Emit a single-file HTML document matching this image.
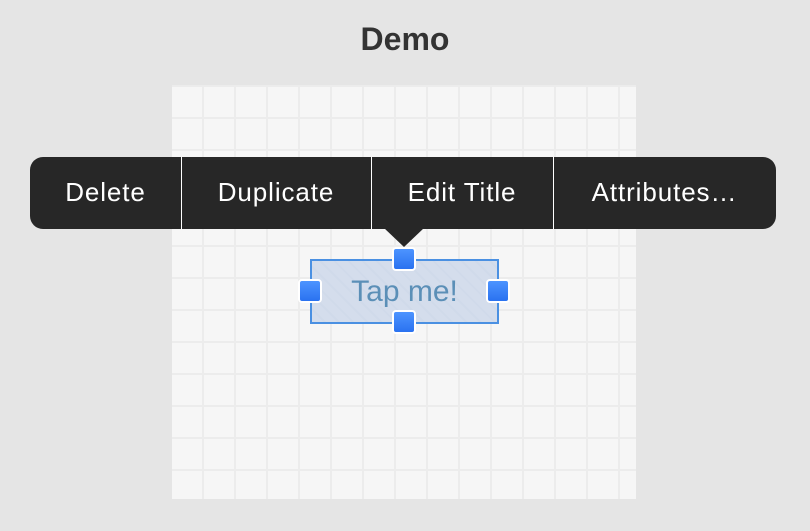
<!DOCTYPE html>
<html><head><meta charset="utf-8"><style>
body{margin:0;width:810px;height:531px;background:#e5e5e5;position:relative;overflow:hidden;font-family:"Liberation Sans",sans-serif}
.title{position:absolute;left:0;width:810px;top:21px;text-align:center;font-weight:bold;font-size:32px;color:#333}
.canvas{position:absolute;left:172px;top:85px;width:464px;height:414px;background-color:#f6f6f6;
background-image:linear-gradient(to right,#ececec 2px,transparent 2px),linear-gradient(to bottom,#ececec 2px,transparent 2px);
background-size:32px 32px;background-position:30px 0,0 32px}
.menu{position:absolute;left:30px;top:157px;width:746px;height:72px;background:#272727;border-radius:13px}
.seg{position:absolute;top:0;height:72px;line-height:70px;text-align:center;color:#fff;font-size:26px;letter-spacing:0.9px}
.div{position:absolute;top:0;width:1px;height:72px;background:#fff}
.arrow{position:absolute;left:384px;top:228px;width:0;height:0;border-left:20px solid transparent;border-right:20px solid transparent;border-top:19px solid #272727}
.box{position:absolute;left:310px;top:259px;width:185px;height:61px;border:2px solid #4a90e2;background:repeating-linear-gradient(45deg,#d4ddec 0 8px,#d0daea 8px 10px);color:#5b8fb7;font-size:30px;text-align:center;line-height:61px}
.h{position:absolute;width:20px;height:20px;background:linear-gradient(#4d94ff,#2a72f0);border:2px solid #fff;border-radius:4px;box-sizing:content-box}
</style></head><body>
<div class="title">Demo</div>
<div class="canvas"></div>
<div class="menu">
<div class="seg" style="left:0;width:151px">Delete</div>
<div class="div" style="left:151px"></div>
<div class="seg" style="left:151px;width:190px">Duplicate</div>
<div class="div" style="left:341px"></div>
<div class="seg" style="left:341px;width:182px">Edit Title</div>
<div class="div" style="left:523px"></div>
<div class="seg" style="left:523px;width:223px">Attributes…</div>
</div>
<div class="arrow"></div>
<div class="box">Tap me!</div>
<div class="h" style="left:392px;top:247px"></div>
<div class="h" style="left:298px;top:279px"></div>
<div class="h" style="left:486px;top:279px"></div>
<div class="h" style="left:392px;top:310px"></div>
</body></html>
